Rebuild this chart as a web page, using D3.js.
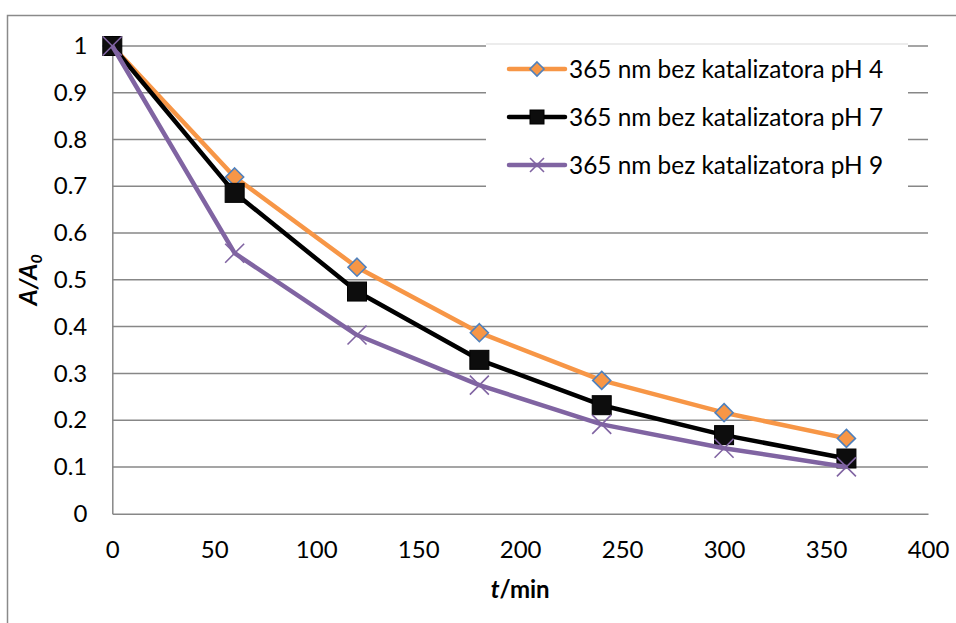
<!DOCTYPE html>
<html><head><meta charset="utf-8">
<script src="https://cdn.jsdelivr.net/npm/d3@7"></script>
<style>
html,body{margin:0;padding:0;background:#fff;}
svg{display:block;font-family:Lato, "Open Sans", sans-serif;}
</style></head>
<body>
<svg id="chart" width="956" height="623"></svg>
<script>
const times = [0, 60, 120, 180, 240, 300, 360];
const pH4 = [1, 0.72, 0.527, 0.387, 0.285, 0.216, 0.161];
const pH7 = [1, 0.686, 0.475, 0.329, 0.232, 0.168, 0.118];
const pH9 = [1, 0.557, 0.382, 0.275, 0.191, 0.14, 0.1];
const seriesNames = ["365 nm bez katalizatora pH 4", "365 nm bez katalizatora pH 7", "365 nm bez katalizatora pH 9"];
const xTicks = [0, 50, 100, 150, 200, 250, 300, 350, 400];
const yTicks = [0, 0.1, 0.2, 0.3, 0.4, 0.5, 0.6, 0.7, 0.8, 0.9, 1];

const svg = d3.select("#chart");
const L = 112.3, R = 928, T = 46, B = 513.7;
const x = d3.scaleLinear().domain([0, 400]).range([L, R]);
const y = d3.scaleLinear().domain([0, 1]).range([B, T]);
const grid = "#878787";
const fs = 24;

// outer frame
svg.append("path").attr("d", "M7.5,623 V15.5 H956").attr("fill", "none").attr("stroke", "#8a8a8a").attr("stroke-width", 1.5);

// gridlines
svg.append("g").selectAll("line").data(yTicks.filter(d => d > 0)).join("line")
  .attr("x1", L).attr("x2", R).attr("y1", d => y(d)).attr("y2", d => y(d))
  .attr("stroke", grid).attr("stroke-width", 1.5);

// axes
const yAxis = d3.axisLeft(y).tickValues(yTicks).tickSize(0).tickPadding(25).tickFormat(d => d === 0 ? "0" : (d === 1 ? "1" : d3.format(".1f")(d)));
const gy = svg.append("g").attr("transform", `translate(${L},0)`).call(yAxis);
gy.select(".domain").attr("stroke", grid).attr("stroke-width", 1.5);
gy.selectAll("text").attr("font-size", fs).attr("fill", "#000").attr("font-family", "Lato");

const xAxis = d3.axisBottom(x).tickValues(xTicks).tickSize(0).tickPadding(27).tickFormat(d3.format("d"));
const gx = svg.append("g").attr("transform", `translate(0,${B})`).call(xAxis);
gx.select(".domain").attr("stroke", grid).attr("stroke-width", 1.5);
gx.selectAll("text").attr("font-size", fs).attr("fill", "#000").attr("font-family", "Lato");

// axis titles
const xt = svg.append("text").attr("x", (L + R) / 2).attr("y", 598).attr("text-anchor", "middle")
  .attr("font-size", fs).attr("font-weight", "bold").attr("fill", "#000");
xt.append("tspan").attr("font-style", "italic").text("t");
xt.append("tspan").text("/min");

const yt = svg.append("text").attr("transform", `translate(37,${(T + B) / 2}) rotate(-90)`).attr("text-anchor", "middle")
  .attr("font-size", 25).attr("font-weight", "bold").attr("fill", "#000");
yt.append("tspan").attr("font-style", "italic").text("A/A");
yt.append("tspan").attr("font-style", "italic").attr("font-size", 16).attr("dy", 5).text("0");

// series
const series = [
  {name: seriesNames[0], vals: pH4, color: "#F79646", marker: "diamond"},
  {name: seriesNames[1], vals: pH7, color: "#000000", marker: "square"},
  {name: seriesNames[2], vals: pH9, color: "#8064A2", marker: "x"}
];

function drawMarker(g, type, cx, cy, color, s) {
  if (type === "diamond") {
    g.append("path").attr("d", `M${cx},${cy - s} L${cx + s},${cy} L${cx},${cy + s} L${cx - s},${cy} Z`)
      .attr("fill", "#F79646").attr("stroke", "#4F81BD").attr("stroke-width", 1.6);
  } else if (type === "square") {
    g.append("rect").attr("x", cx - s).attr("y", cy - s).attr("width", 2 * s).attr("height", 2 * s)
      .attr("fill", "#0d0d0d").attr("stroke", "#000").attr("stroke-width", 1);
  } else {
    g.append("path").attr("d", `M${cx - s},${cy - s} L${cx + s},${cy + s} M${cx - s},${cy + s} L${cx + s},${cy - s}`)
      .attr("stroke", color).attr("stroke-width", 1.6).attr("fill", "none");
  }
}

const line = d3.line().x((d, i) => x(times[i])).y(d => y(d));
series.forEach(s => {
  const g = svg.append("g");
  g.append("path").attr("d", line(s.vals)).attr("fill", "none").attr("stroke", s.color)
    .attr("stroke-width", 4.5).attr("stroke-linejoin", "round");
  const size = s.marker === "diamond" ? 9 : 9.5;
  s.vals.forEach((v, i) => drawMarker(g, s.marker, x(times[i]), y(v), s.color, size));
});

// legend
const lg = svg.append("g");
lg.append("rect").attr("x", 486).attr("y", 44).attr("width", 422).attr("height", 162).attr("fill", "#fff");
lg.append("line").attr("x1", 486).attr("x2", 908).attr("y1", 44).attr("y2", 44).attr("stroke", "#d9d9d9").attr("stroke-width", 1);
series.forEach((s, i) => {
  const cy = 69 + i * 48;
  lg.append("line").attr("x1", 509).attr("x2", 565).attr("y1", cy).attr("y2", cy)
    .attr("stroke", s.color).attr("stroke-width", 4.5).attr("stroke-linecap", "round");
  drawMarker(lg, s.marker, 537, cy, s.color, 7);
  lg.append("text").attr("x", 569).attr("y", cy).attr("dy", "0.36em").attr("font-size", 24.4).attr("fill", "#000").text(s.name);
});
</script>
</body></html>
